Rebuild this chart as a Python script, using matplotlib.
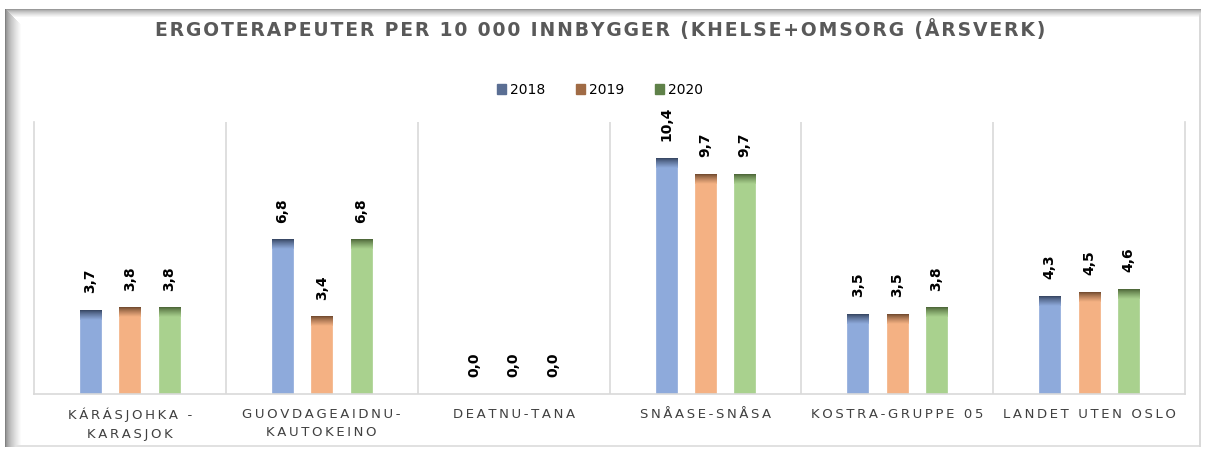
import numpy as np
import matplotlib
matplotlib.use("Agg")
from matplotlib import pyplot as plt
from matplotlib.patches import Patch
from matplotlib.colors import to_rgb

# Ergoterapeuter per 10 000 innbyggere (årsverk)
kommuner = ["KÁRÁSJOHKA -\nKARASJOK", "GUOVDAGEAIDNU-\nKAUTOKEINO", "DEATNU-TANA",
            "SNÅASE-SNÅSA", "KOSTRA-GRUPPE 05", "LANDET UTEN OSLO"]
aar = ["2018", "2019", "2020"]
v2018 = [3.7, 6.8, 0.0, 10.4, 3.5, 4.3]
v2019 = [3.8, 3.4, 0.0, 9.7, 3.5, 4.5]
v2020 = [3.8, 6.8, 0.0, 9.7, 3.8, 4.6]

tittel = "ERGOTERAPEUTER PER 10 000 INNBYGGER (KHELSE+OMSORG (ÅRSVERK)"
figurtekst = "Figur 18 Ergoterapeuter per 10 000 innbyggere"

farge_kropp = ["#8eaadb", "#f4b183", "#a9d18e"]
farge_topp = ["#34435f", "#6e472c", "#4a6335"]
farge_legend = ["#5a6e93", "#a06b45", "#5f8149"]

W, H = 1206, 451


def sperret(tekst, mellom="\u2009"):
    """Sperret skrift: tynt mellomrom mellom hver bokstav"""
    return "\n".join(mellom.join(linje) for linje in tekst.split("\n"))


fig = plt.figure(figsize=(W / 100, H / 100), dpi=100)
fig.patch.set_facecolor("white")

# ramme rundt diagrammet med skygge på venstre og øvre kant
bg = fig.add_axes([0, 0, 1, 1], zorder=-5)
bg.set_xlim(0, W)
bg.set_ylim(H, 0)
bg.axis("off")
ramme = np.ones((H, W))
x0, x1, y0, y1 = 5, 1201, 9, 447
for i in range(16):
    g = 0.5 + 0.5 * (i / 16) ** 0.6
    ramme[y0 + i:y1, x0 + i] = np.minimum(ramme[y0 + i:y1, x0 + i], g)
for i in range(8):
    g = 0.6 + 0.4 * (i / 8) ** 0.7
    ramme[y0 + i, x0 + i:x1] = np.minimum(ramme[y0 + i, x0 + i:x1], g)
ramme[y0:y1, x1 - 2:x1] = np.minimum(ramme[y0:y1, x1 - 2:x1], 0.85)
ramme[y1 - 2:y1, x0:x1] = np.minimum(ramme[y1 - 2:y1, x0:x1], 0.88)
bg.imshow(ramme, cmap="gray", vmin=0, vmax=1, extent=(0, W, H, 0),
          interpolation="bilinear", aspect="auto")

fig.text(22 / W, 1 + 5 / H, figurtekst, fontsize=16.5, style="italic",
         ha="left", va="baseline", color="black")

ax = fig.add_axes([34 / W, 1 - 394 / H, (1185 - 34) / W, (394 - 122) / H])

x = np.arange(len(kommuner)) + 0.5
bredde = 0.11
avstand = 0.205
topp_h = 0.42

for k, (verdier, kropp, topp) in enumerate(zip([v2018, v2019, v2020], farge_kropp, farge_topp)):
    xs = x + (k - 1) * avstand
    ax.bar(xs, verdier, width=bredde, color=kropp, edgecolor=kropp, linewidth=0.5, zorder=2)
    # mørkere skrå kant øverst på søylen
    c0 = np.array(to_rgb(topp))
    c1 = np.array(to_rgb(kropp))
    grad = np.linspace(0, 1, 24)[:, None, None] ** 0.8
    bilde = c0 * (1 - grad) + c1 * grad
    for xi, v in zip(xs, verdier):
        if v > 0:
            ax.imshow(bilde, extent=(xi - bredde / 2, xi + bredde / 2, v - topp_h, v),
                      aspect="auto", interpolation="bilinear", zorder=3)
        ax.annotate(f"{v:.1f}".replace(".", ","), (xi, v), xytext=(0, 12.5),
                    textcoords="offset points", rotation=90, ha="center", va="bottom",
                    fontsize=10, fontweight="bold", color="black")

ax.set_xlim(0, len(kommuner))
ax.set_ylim(0, 12)

ax.spines["top"].set_visible(False)
for s in ["left", "right", "bottom"]:
    ax.spines[s].set_color("#d9d9d9")
    ax.spines[s].set_linewidth(1.2)
for xv in range(1, len(kommuner)):
    ax.axvline(xv, color="#d9d9d9", lw=1.2, zorder=1)

ax.set_yticks([])
ax.set_xticks(x)
ax.set_xticklabels([sperret(n) for n in kommuner], fontsize=9.5, color="#404040",
                   linespacing=1.55)
ax.tick_params(axis="x", length=0, pad=10)

fig.text(600 / W, 1 - 30 / H, sperret(tittel, "\u200a"), fontsize=13.5, fontweight="bold",
         color="#595959", ha="center", va="center")

handles = [Patch(facecolor=c, edgecolor=c) for c in farge_legend]
fig.legend(handles, aar, loc="center", bbox_to_anchor=(600 / W, 1 - 90 / H), ncol=3,
           frameon=False, fontsize=10, handlelength=0.65, handleheight=0.65,
           handletextpad=0.3, columnspacing=2.2)

fig.savefig("out.png", dpi=100)
